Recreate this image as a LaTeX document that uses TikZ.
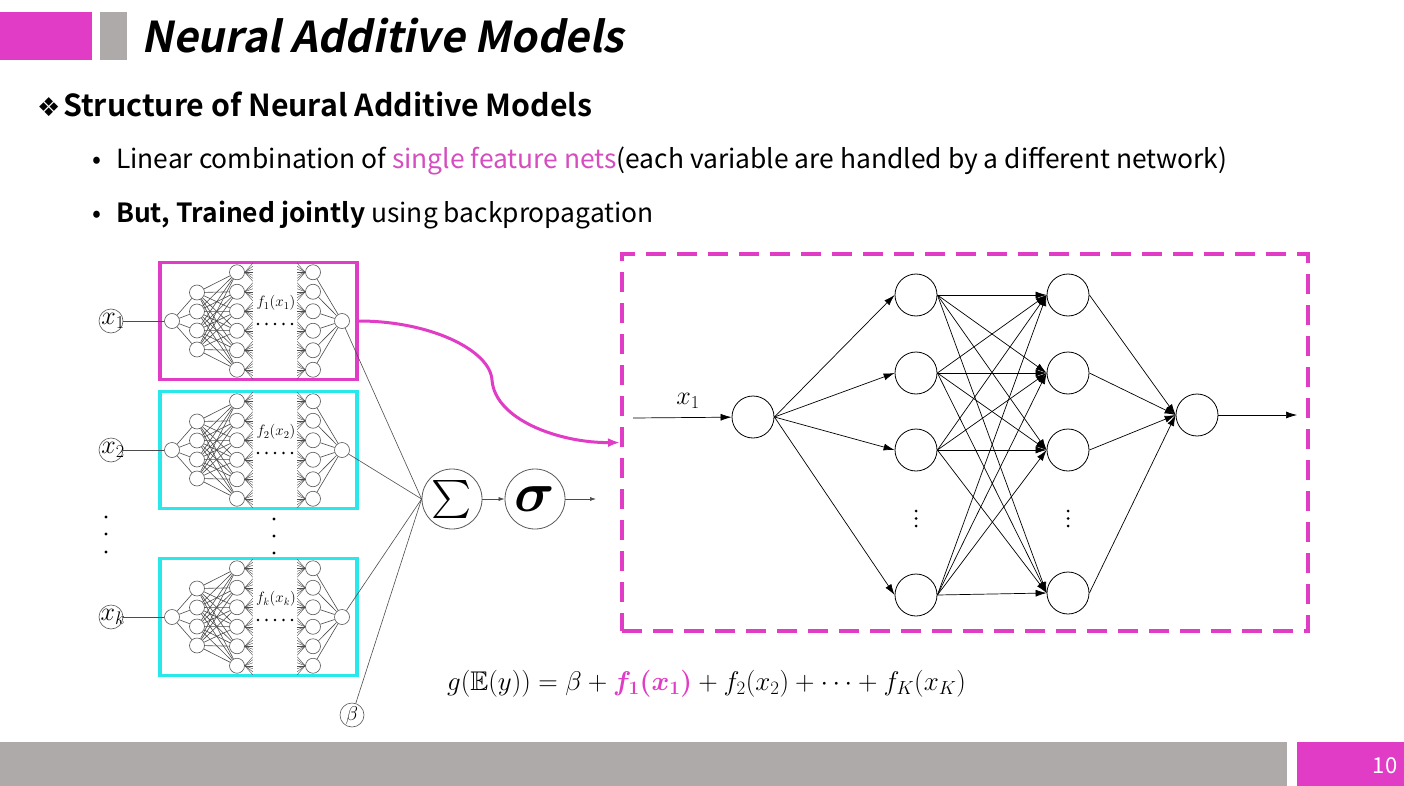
\RequirePackage{fix-cm}
\documentclass[tikz,border=0pt]{standalone}
\usepackage{amsmath,amssymb}
\usepackage{fontspec}
\setmainfont{Noto Sans CJK KR}
\newfontfamily\boldfont{Noto Sans CJK KR Bold}
\newfontfamily\titlefont{Noto Sans CJK KR Bold}[FakeSlant=0.2]
\newfontfamily\symfont{DejaVu Sans}
\usetikzlibrary{arrows.meta,positioning}
\definecolor{nampink}{RGB}{224,60,198}
\definecolor{featpink}{RGB}{214,77,192}
\definecolor{namgray}{RGB}{174,170,170}
\definecolor{namcyan}{RGB}{40,232,236}
\begin{document}
\begin{tikzpicture}[x=1pt,y=-1pt,
    txt/.style={anchor=base west,inner sep=0pt},
    neuron/.style={circle,draw=black!65,fill=white,inner sep=0pt,minimum size=15pt,line width=0.6pt},
    xcirc/.style={circle,draw=black!65,inner sep=0pt,minimum size=24pt,line width=0.6pt},
    wire/.style={draw=black!70,line width=0.6pt},
    opcirc/.style={circle,draw=black!65,inner sep=0pt,minimum size=60pt,line width=0.8pt},
    hidnode/.style={circle,draw,fill=white,inner sep=0pt,minimum size=42pt,line width=0.8pt},
    synapse/.style={-{Latex[length=11pt,width=7pt]},line width=0.7pt}]
  \fill[white] (0,0) rectangle (1404,786);
  \useasboundingbox (0,0) rectangle (1404,786);
  % header and footer
  \fill[nampink] (0,12) rectangle (92,60);
  \fill[namgray] (100,12) rectangle (127,60);
  \fill[namgray] (0,742) rectangle (1287,786);
  \fill[nampink] (1297,742) rectangle (1404,786);
  \node[txt] (title) at (141,53) {\titlefont\fontsize{42.5}{48}\selectfont Neural Additive Models};
  \node[txt] (diamond) at (37,117) {\symfont\fontsize{26}{30}\selectfont ❖};
  \node[txt] (heading) at (63,117) {\boldfont\fontsize{30.3}{36}\selectfont Structure of Neural Additive Models};
  \node[txt] (dot1) at (92,169) {\fontsize{26.4}{32}\selectfont •};
  \node[txt] (item1) at (116,169) {\fontsize{26.4}{32}\selectfont Linear combination of \textcolor{featpink}{single feature nets}(each variable are handled by a different network)};
  \node[txt] (dot2) at (92,223) {\fontsize{26.4}{32}\selectfont •};
  \node[txt] (item2) at (116,223) {\fontsize{26.4}{32}\selectfont {\boldfont But, Trained jointly} using backpropagation};
  \node[white] (page) at (1385,766) {\fontsize{22}{26}\selectfont 10};
  % single feature nets
  \foreach \b/\cy/\col in {1/321/nampink,2/450/namcyan,k/617/namcyan}{
    \node[draw=\col,line width=3.5pt,minimum width=197pt,minimum height=117pt] (box\b) at (258.5,\cy) {};
    \node[xcirc] (x\b) at (111,\cy) {};
    \node at ([xshift=2pt]x\b) {\fontsize{26}{30}\selectfont $x_{\b}$};
    \node[neuron] (in\b) at (172,\cy) {};
    \node[neuron] (out\b) at (342,\cy) {};
    \foreach \i/\dy in {1/-28.5,2/-9.5,3/9.5,4/28.5}
      \node[neuron] (a\b-\i) at (197,{\cy+\dy}) {};
    \foreach \j/\dy in {1/-48.75,2/-29.25,3/-9.75,4/9.75,5/29.25,6/48.75}{
      \node[neuron] (b\b-\j) at (237,{\cy+\dy}) {};
      \node[neuron] (c\b-\j) at (313,{\cy+\dy}) {};
    }
    \draw[wire] (x\b) -- (in\b);
    \foreach \i in {1,...,4}{
      \draw[wire] (in\b) -- (a\b-\i);
      \foreach \j in {1,...,6}
        \draw[wire] (a\b-\i) -- (b\b-\j);
    }
    \foreach \j in {1,...,6}{
      \draw[wire] (c\b-\j) -- (out\b);
      \foreach \d in {-9,-6,...,9}{
        \draw[wire,line width=0.4pt] (b\b-\j.east) -- ++(8,\d);
        \draw[wire,line width=0.4pt] (c\b-\j.west) -- ++(-8,\d);
      }
    }
    \node at (276,{\cy-18}) {\fontsize{15}{17}\selectfont $f_{\b}(x_{\b})$};
    \foreach \k in {0,...,4}
      \fill (258+\k*8.5,{\cy+3}) circle (1.4);
  }
  \foreach \y in {517,534,552} \fill (106,\y) circle (1.6);
  \foreach \y in {519,536,553} \fill (274,\y) circle (1.6);
  \node[xcirc] (beta) at (352,715) {};
  \node at (beta) {\fontsize{20}{24}\selectfont $\beta$};
  \node[opcirc] (sum) at (452,499) {\fontsize{38}{40}\selectfont $\sum$};
  \node[opcirc] (sig) at (535,499) {\fontsize{56}{60}\selectfont $\boldsymbol{\sigma}$};
  \coordinate (sigout) at (596,499);
  \foreach \n in {out1,out2,outk,beta}
    \draw[wire] (\n) -- (sum.west);
  \draw[wire,-{Latex[length=6pt,width=4pt]}] (sum) -- (sig);
  \draw[wire,-{Latex[length=6pt,width=4pt]}] (sig) -- (sigout);
  % zoomed network
  \node[draw=nampink,dash pattern=on 20pt off 11pt,line width=4pt,minimum width=686pt,minimum height=377pt] (dashbox) at (965,442.5) {};
  \draw[nampink,line width=3pt,-{Latex[length=12pt,width=9pt]}] (box1.east) .. controls (430,321) and (490,350) .. (492,380) .. controls (495,420) and (560,443) .. (dashbox.west);
  \node[hidnode] (inp) at (753,417) {};
  \foreach \i/\y in {1/295,2/373,3/450,4/595}
    \node[hidnode] (h1-\i) at (916,\y) {};
  \foreach \i/\y in {1/295,2/373,3/450,4/593}
    \node[hidnode] (h2-\i) at (1068,\y) {};
  \node[hidnode] (outp) at (1197,415) {};
  \coordinate (src) at (633,418);
  \coordinate (dst) at (1297,415);
  \node (xlab) at (688,401) {\fontsize{26}{30}\selectfont $x_1$};
  \foreach \y in {511,518.5,526}{
    \fill (916,\y) circle (1.5);
    \fill (1068,\y) circle (1.5);
  }
  \draw[synapse] (src) -- (inp);
  \foreach \i in {1,...,4}{
    \draw[synapse] (inp.east) -- (h1-\i.west);
    \draw[synapse] (h2-\i.east) -- (outp.west);
    \foreach \j in {1,...,4}
      \draw[synapse] (h1-\i.east) -- (h2-\j.west);
  }
  \draw[synapse] (outp) -- (dst);
  % formula
  \node[txt] (formula) at (447,690) {\fontsize{27}{32}\selectfont $g(\mathbb{E}(y)) = \beta + \textcolor{nampink}{\boldsymbol{f_1(x_1)}} + f_2(x_2) + \cdots + f_K(x_K)$};
\end{tikzpicture}
\end{document}
